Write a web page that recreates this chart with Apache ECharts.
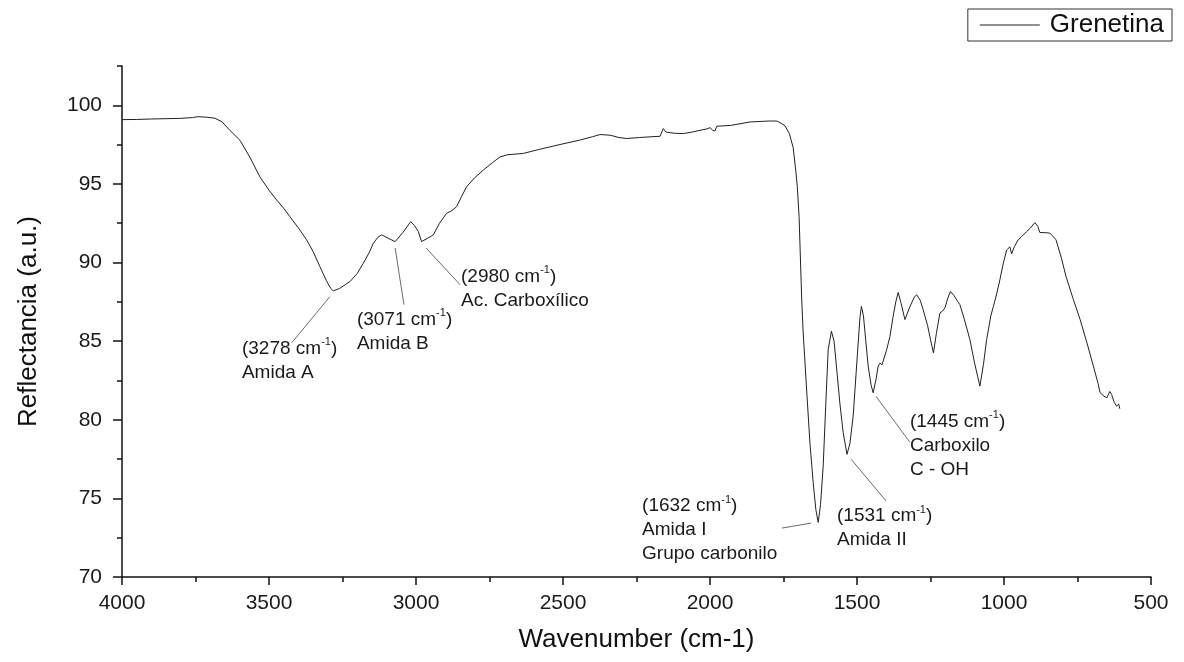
<!DOCTYPE html>
<html><head><meta charset="utf-8">
<script src="https://cdn.jsdelivr.net/npm/echarts@6/dist/echarts.min.js"></script>
<style>html,body{margin:0;padding:0;background:#fff}#c{width:1184px;height:662px}</style>
</head><body><div id="c"></div>
<script>
const seriesName = 'Grenetina';
const xAxisTitle = 'Wavenumber (cm-1)';
const yAxisTitle = 'Reflectancia (a.u.)';
const xTickValues = [4000, 3500, 3000, 2500, 2000, 1500, 1000, 500];
const yTickValues = [70, 75, 80, 85, 90, 95, 100];

const wavenumbers = [4000,3950,3900,3850,3800,3760,3741,3710,3684,3660,3633,3599,3565,3531,3500,3474,3450,3429,3400,3372,3350,3327,3305,3290,3281,3260,3240,3224,3200,3179,3160,3145,3130,3117,3095,3071,3045,3018,3005,2992,2981,2960,2941,2920,2896,2878,2862,2845,2828,2800,2771,2740,2714,2690,2660,2635,2580,2500,2440,2400,2374,2340,2310,2283,2240,2200,2170,2159,2150,2120,2091,2060,2034,2010,2000,1990,1983,1977,1930,1864,1800,1773,1762,1745,1730,1717,1708,1703,1697,1688,1683,1670,1660,1649,1640,1632,1624,1615,1605,1598,1587,1578,1570,1558,1547,1534,1524,1513,1500,1490,1485,1478,1470,1462,1452,1445,1435,1428,1422,1415,1399,1388,1377,1368,1360,1350,1337,1320,1305,1297,1285,1275,1260,1250,1240,1230,1218,1210,1201,1190,1182,1170,1160,1150,1135,1116,1100,1082,1070,1059,1045,1036,1025,1014,1003,991,980,974,965,952,940,923,910,895,885,878,860,844,835,823,805,789,765,741,718,696,680,673,660,650,640,634,625,617,610,606];
const reflectance = [99.09,99.10,99.13,99.15,99.17,99.22,99.28,99.24,99.18,98.95,98.41,97.78,96.7,95.45,94.6,93.98,93.45,92.92,92.2,91.44,90.7,89.75,88.85,88.35,88.2,88.35,88.6,88.8,89.3,89.96,90.6,91.23,91.6,91.76,91.55,91.33,91.9,92.6,92.35,91.97,91.33,91.55,91.76,92.5,93.13,93.3,93.55,94.2,94.82,95.4,95.88,96.35,96.72,96.85,96.9,96.94,97.2,97.55,97.8,98.0,98.14,98.1,97.95,97.89,97.95,98.0,98.03,98.52,98.3,98.22,98.2,98.3,98.41,98.5,98.58,98.4,98.37,98.67,98.72,98.94,99.0,99.0,98.9,98.7,98.2,97.3,95.8,94.82,92.92,87.63,85.52,81.5,78.5,76.0,74.3,73.47,74.6,77.07,81.5,84.46,85.63,85.0,83.41,81.0,79.18,77.8,78.5,80.24,83.8,86.5,87.21,86.6,85.0,83.41,82.2,81.72,82.6,83.41,83.6,83.5,84.46,85.3,86.58,87.5,88.1,87.4,86.37,87.2,87.8,87.95,87.6,87.0,86.0,85.1,84.25,85.5,86.79,86.9,87.11,87.8,88.16,87.9,87.6,87.32,86.4,85.1,83.6,82.14,83.5,85.1,86.6,87.21,88.0,88.9,89.9,90.8,91.0,90.55,91.0,91.44,91.65,91.97,92.2,92.54,92.3,91.91,91.9,91.87,91.7,91.44,90.3,89.11,87.7,86.37,84.9,83.41,82.3,81.72,81.5,81.4,81.8,81.61,81.1,80.87,81.0,80.7];

const annotationTexts = [
  '(3278 cm{sup|-1})\nAmida A',
  '(3071 cm{sup|-1})\nAmida B',
  '(2980 cm{sup|-1})\nAc. Carboxílico',
  '(1632 cm{sup|-1})\nAmida I\nGrupo carbonilo',
  '(1531 cm{sup|-1})\nAmida II',
  '(1445 cm{sup|-1})\nCarboxilo\nC - OH'
];
// text anchors: left edge, centre of first line (data coords)
const annotationAnchors = [[3592,84.53],[3201,86.37],[2847,89.09],[2231,74.51],[1568,73.87],[1320,79.9]];
const leaderStarts = [[3293,87.83],[3071,90.93],[2966,90.93],[1755,73.11],[1520,77.49],[1435,81.48]];
const leaderEnds = [[3422,84.91],[3041,87.32],[2850,88.59],[1656,73.43],[1401,74.83],[1320,78.57]];

const FONT = "'Liberation Sans', Arial, sans-serif";
const chart = echarts.init(document.getElementById('c'), null, {renderer: 'canvas'});
const axisCol = '#111';

chart.setOption({
  backgroundColor: '#fff',
  animation: false,
  textStyle: {fontFamily: FONT},
  grid: {left: 122, right: 33, top: 66, bottom: 85, containLabel: false, outerBoundsMode: 'none'},
  legend: {
    data: [seriesName], right: 12, top: 9,
    borderColor: '#333', borderWidth: 1, backgroundColor: '#fff',
    padding: [3, 8, 3, 12], itemWidth: 60, itemHeight: 1.2, itemGap: 0,
    icon: 'rect', itemStyle: {color: '#222', borderWidth: 0},
    textStyle: {fontSize: 26, color: '#111', fontFamily: FONT, padding: [0, 0, 0, 5]}
  },
  xAxis: {
    type: 'value', inverse: true, min: 500, max: 4000, interval: 500,
    name: xAxisTitle, nameLocation: 'middle', nameGap: 50,
    nameTextStyle: {fontSize: 26, color: '#111', fontFamily: FONT},
    axisLine: {show: true, onZero: false, lineStyle: {color: axisCol, width: 1.5}},
    axisTick: {show: true, inside: false, length: 8, lineStyle: {color: axisCol, width: 1.5}},
    minorTick: {show: true, splitNumber: 2, length: 5, lineStyle: {color: axisCol, width: 1.5}},
    splitLine: {show: false}, minorSplitLine: {show: false},
    axisLabel: {fontSize: 21, color: '#1a1a1a', margin: 16, fontFamily: FONT,
      formatter: v => xTickValues.includes(v) ? String(v) : ''}
  },
  yAxis: [{
    type: 'value', min: 70, max: 102.5, interval: 5, position: 'left',
    name: yAxisTitle, nameLocation: 'middle', nameGap: 80,
    nameTextStyle: {fontSize: 26, color: '#111', fontFamily: FONT},
    axisLine: {show: true, onZero: false, lineStyle: {color: axisCol, width: 1.5}},
    axisTick: {show: true, inside: false, length: 9, customValues: yTickValues, lineStyle: {color: axisCol, width: 1.5}},
    splitLine: {show: false},
    axisLabel: {fontSize: 21, color: '#1a1a1a', margin: 20, fontFamily: FONT, customValues: yTickValues,
      formatter: v => yTickValues.includes(v) ? String(v) : ''}
  }, {
    type: 'value', min: 70, max: 102.5, interval: 2.5, position: 'left', offset: 0,
    axisLine: {show: false},
    axisTick: {show: true, inside: false, length: 5, lineStyle: {color: axisCol, width: 1.5}},
    axisLabel: {show: false}, splitLine: {show: false}
  }],
  series: [{
    name: seriesName, type: 'line', yAxisIndex: 0,
    data: wavenumbers.map((w, i) => [w, reflectance[i]]),
    symbol: 'none', showSymbol: false, smooth: false,
    lineStyle: {color: '#222', width: 1},
    itemStyle: {color: '#222'}
  }]
});

const toPx = p => chart.convertToPixel({seriesIndex: 0}, p);
const graphics = [];
leaderStarts.forEach((s, i) => {
  const a = toPx(s), b = toPx(leaderEnds[i]);
  graphics.push({type: 'line', shape: {x1: a[0], y1: a[1], x2: b[0], y2: b[1]},
    style: {stroke: '#444', lineWidth: 0.8}, silent: true});
});
annotationTexts.forEach((t, i) => {
  const p = toPx(annotationAnchors[i]);
  graphics.push({type: 'text', x: p[0], y: p[1] - 12, silent: true,
    style: {text: t, fontSize: 19, fontFamily: FONT, fill: '#1a1a1a', lineHeight: 24,
      align: 'left', verticalAlign: 'top',
      rich: {sup: {fontSize: 11, fontFamily: FONT, fill: '#1a1a1a', verticalAlign: 'top', lineHeight: 12}}}});
});
chart.setOption({graphic: graphics});
</script>
</body></html>
